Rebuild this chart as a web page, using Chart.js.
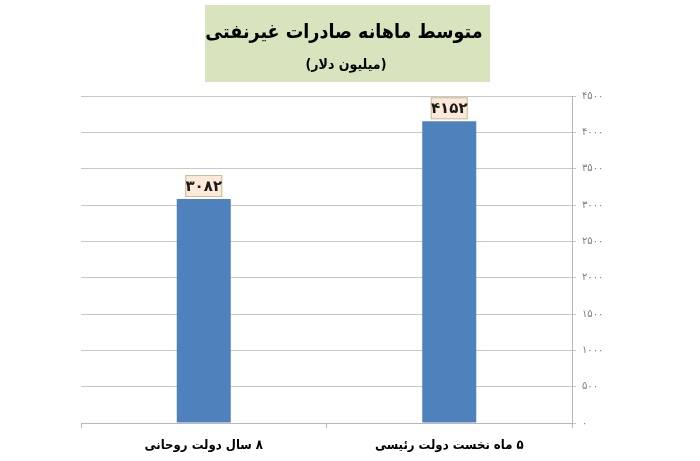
<!DOCTYPE html>
<html>
<head>
<meta charset="utf-8">
<script src="https://cdn.jsdelivr.net/npm/chart.js@4"></script>
<style>
  html, body { margin: 0; padding: 0; background: #fff; }
  #wrap { width: 700px; height: 461px; }
</style>
</head>
<body>
<div id="wrap"><canvas id="chart" width="700" height="461" dir="rtl"></canvas></div>
<script>
// data
const categories = ['۸ سال دولت روحانی', '۵ ماه نخست دولت رئیسی'];
const exportValues = [3082, 4152];
const titleText = 'متوسط ماهانه صادرات غیرنفتی';
const subtitleText = '(میلیون دلار)';

const faDigits = '۰۱۲۳۴۵۶۷۸۹';
function toFa(n) {
  return String(n).replace(/\d/g, d => faDigits[d]);
}

// green title box behind the texts
const titleBox = {
  id: 'titleBox',
  beforeDraw(chart) {
    const ctx = chart.ctx;
    ctx.save();
    ctx.fillStyle = '#d7e4bd';
    ctx.fillRect(205, 5, 285, 77);
    ctx.fillStyle = '#000';
    ctx.textAlign = 'center';
    ctx.textBaseline = 'middle';
    ctx.direction = 'rtl';
    ctx.font = 'bold 19.5px "DejaVu Sans Condensed", "DejaVu Sans"';
    ctx.fillText(titleText, 344, 33);
    ctx.font = 'bold 14px "DejaVu Sans Condensed", "DejaVu Sans"';
    ctx.fillText(subtitleText, 346, 65);
    ctx.restore();
  }
};

// value boxes on top of the bars
const valueBoxes = {
  id: 'valueBoxes',
  afterDatasetsDraw(chart) {
    const ctx = chart.ctx;
    const meta = chart.getDatasetMeta(0);
    ctx.save();
    meta.data.forEach((bar, i) => {
      const w = 37, h = 22;
      const x = bar.x - w / 2;
      const y = bar.y - h - 2;
      ctx.fillStyle = '#fde9d9';
      ctx.fillRect(x, y, w, h);
      ctx.strokeStyle = '#c4bd97';
      ctx.lineWidth = 1;
      ctx.strokeRect(x + 0.5, y + 0.5, w - 1, h - 1);
      ctx.fillStyle = '#1a1a1a';
      ctx.font = 'bold 15px "DejaVu Sans"';
      ctx.textAlign = 'center';
      ctx.textBaseline = 'middle';
      ctx.fillText(toFa(exportValues[i]), bar.x, y + h / 2 + 1);
    });
    ctx.restore();
  }
};

new Chart(document.getElementById('chart').getContext('2d'), {
  type: 'bar',
  data: {
    labels: categories,
    datasets: [{
      data: exportValues,
      backgroundColor: '#4f81bd',
      borderWidth: 0,
      barPercentage: 0.5,
      categoryPercentage: 0.44
    }]
  },
  options: {
    responsive: false,
    animation: false,
    layout: { padding: { top: 96, left: 81, right: 0, bottom: 0 } },
    plugins: {
      legend: { display: false },
      tooltip: { enabled: false }
    },
    scales: {
      x: {
        afterFit(scale) { scale.height = 38; },
        grid: { drawOnChartArea: false, offset: true, tickLength: 5, color: '#b8b8b8' },
        border: { color: '#b8b8b8' },
        ticks: {
          color: '#000',
          padding: 10,
          font: { family: '"DejaVu Sans Condensed", "DejaVu Sans"', size: 13, weight: 'bold' }
        }
      },
      y: {
        position: 'right',
        min: 0,
        max: 4500,
        afterFit(scale) { scale.width = 128; },
        grid: { color: '#c8c8c8', tickLength: 4 },
        border: { color: '#b8b8b8' },
        ticks: {
          stepSize: 500,
          color: '#7f7f7f',
          padding: 6,
          font: { family: 'DejaVu Sans', size: 10 },
          callback: v => toFa(v)
        }
      }
    }
  },
  plugins: [titleBox, valueBoxes]
});
</script>
</body>
</html>
